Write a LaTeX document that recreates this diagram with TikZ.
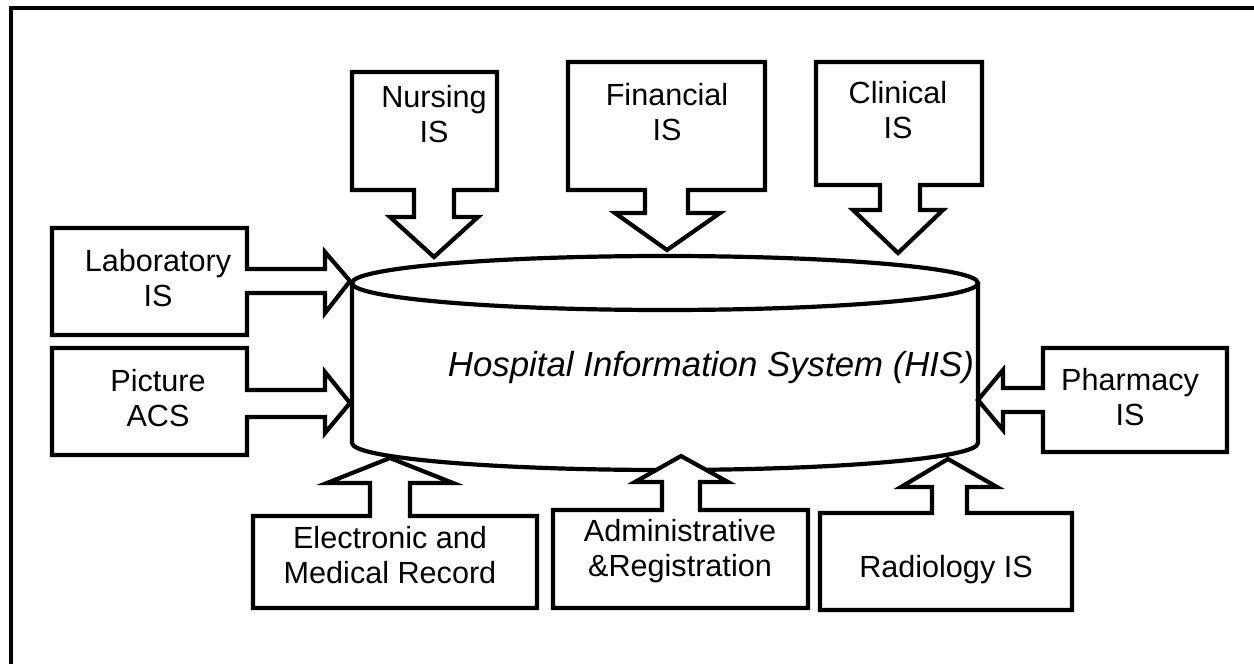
\documentclass[tikz,border=0pt]{standalone}
\usepackage{fontspec}
\setmainfont{Liberation Sans}
\begin{document}
\begin{tikzpicture}[x=0.5pt,y=-0.5pt,
  callout/.style={draw=black,fill=white,line width=2.1pt,line join=miter},
  cyl/.style={draw=black,line width=2.1pt},
  lbl/.style={align=center,font=\fontsize{15.3pt}{17.5pt}\selectfont,inner sep=0pt},
  ttl/.style={font=\fontsize{17.4pt}{20pt}\selectfont\itshape,inner sep=0pt}]
\useasboundingbox (0,0) rectangle (1254,664);
% outer frame
\draw[line width=2pt] (11,8) rectangle (1275,690);
% cylinder
\draw[cyl] (665,283) ellipse [x radius=313, y radius=27];
\draw[cyl] (352,283) -- (352,443)
  .. controls (352,458) and (492,470) .. (665,470)
  .. controls (838,470) and (978,458) .. (978,443) -- (978,283);
\node[ttl] (his) at (711,367) {Hospital Information System (HIS)};
% top callouts (down arrows)
\draw[callout] (352,72) -- (497,72) -- (497,190) -- (454,190) -- (454,217) -- (478,217)
  -- (434,257) -- (390,217) -- (414,217) -- (414,190) -- (352,190) -- cycle;
\node[lbl] (nurs) at (434,114) {Nursing\\IS};
\draw[callout] (568,62) -- (765,62) -- (765,190) -- (688,190) -- (688,213) -- (720,213)
  -- (667,250) -- (615,213) -- (645,213) -- (645,190) -- (568,190) -- cycle;
\node[lbl] (fin) at (667,112) {Financial\\IS};
\draw[callout] (816,62) -- (982,62) -- (982,185) -- (920,185) -- (920,210) -- (943,210)
  -- (898,253) -- (853,210) -- (880,210) -- (880,185) -- (816,185) -- cycle;
\node[lbl] (clin) at (898,110) {Clinical\\IS};
% left callouts (right arrows)
\draw[callout] (52,228) -- (247,228) -- (247,269) -- (325,269) -- (325,252) -- (350,281)
  -- (325,313) -- (325,293) -- (247,293) -- (247,335) -- (52,335) -- cycle;
\node[lbl] (lab) at (158,278) {Laboratory\\IS};
\draw[callout] (52,348) -- (247,348) -- (247,390) -- (325,390) -- (325,372) -- (350,403)
  -- (325,433) -- (325,417) -- (247,417) -- (247,455) -- (52,455) -- cycle;
\node[lbl] (pacs) at (158,398) {Picture\\ACS};
% right callout (left arrow)
\draw[callout] (1227,348) -- (1043,348) -- (1043,388) -- (1003,388) -- (1003,370) -- (978,400)
  -- (1003,430) -- (1003,412) -- (1043,412) -- (1043,452) -- (1227,452) -- cycle;
\node[lbl] (pharm) at (1130,397) {Pharmacy\\IS};
% bottom callouts (up arrows)
\draw[callout] (253,608) -- (253,516) -- (370,516) -- (370,483) -- (327,483) -- (390,458)
  -- (453,483) -- (410,483) -- (410,516) -- (537,516) -- (537,608) -- cycle;
\node[lbl] (emr) at (390,555) {Electronic and\\Medical Record};
\draw[callout] (553,608) -- (553,510) -- (662,510) -- (662,482) -- (635,482) -- (681,456)
  -- (728,482) -- (700,482) -- (700,510) -- (808,510) -- (808,608) -- cycle;
\node[lbl] (adm) at (680,551) {Administrative\\\&Registration};
\draw[callout] (820,610) -- (820,513) -- (932,513) -- (932,487) -- (901,487) -- (948,459)
  -- (997,487) -- (967,487) -- (967,513) -- (1072,513) -- (1072,610) -- cycle;
\node[lbl] (rad) at (946,570) {Radiology IS};
\end{tikzpicture}
\end{document}
